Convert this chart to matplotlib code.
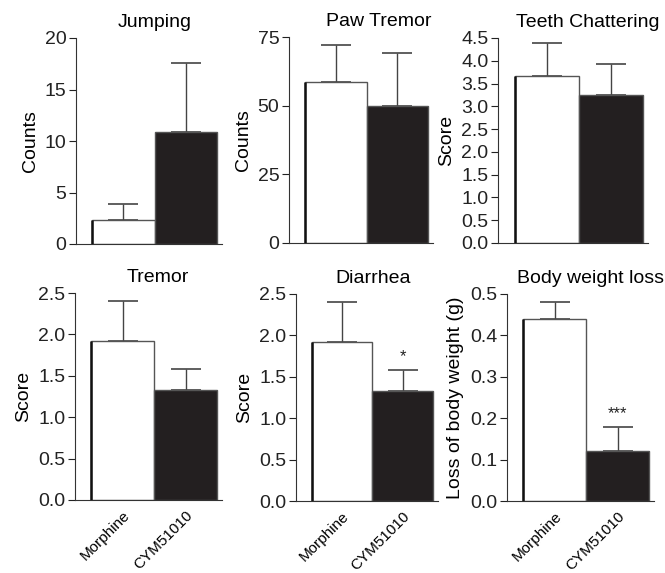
import matplotlib
matplotlib.use("Agg")
import matplotlib.pyplot as plt

plt.rcParams['font.family'] = ['Liberation Sans', 'DejaVu Sans']

groups = ["Morphine", "CYM51010"]
titles = ["Jumping", "Paw Tremor", "Teeth Chattering", "Tremor", "Diarrhea", "Body weight loss"]
ylabels = ["Counts", "Counts", "Score", "Score", "Score", "Loss of body weight (g)"]

jumping = [2.3, 10.9]
jumping_err = [1.6, 6.7]
paw_tremor = [58.5, 50.0]
paw_tremor_err = [13.5, 19.0]
teeth = [3.67, 3.25]
teeth_err = [0.73, 0.68]
tremor = [1.92, 1.33]
tremor_err = [0.48, 0.25]
diarrhea = [1.92, 1.33]
diarrhea_err = [0.48, 0.25]
body_weight = [0.44, 0.12]
body_weight_err = [0.04, 0.058]

means = [jumping, paw_tremor, teeth, tremor, diarrhea, body_weight]
errs = [jumping_err, paw_tremor_err, teeth_err, tremor_err, diarrhea_err, body_weight_err]
stars = [None, None, None, None, "*", "***"]

yticks = [[0, 5, 10, 15, 20], [0, 25, 50, 75],
          [0.0, 0.5, 1.0, 1.5, 2.0, 2.5, 3.0, 3.5, 4.0, 4.5],
          [0.0, 0.5, 1.0, 1.5, 2.0, 2.5], [0.0, 0.5, 1.0, 1.5, 2.0, 2.5],
          [0.0, 0.1, 0.2, 0.3, 0.4, 0.5]]
ytickfmt = ["{:.0f}", "{:.0f}", "{:.1f}", "{:.1f}", "{:.1f}", "{:.1f}"]

W, H = 665, 573
fig = plt.figure(figsize=(W / 100, H / 100), dpi=100)

# pixel boxes: left, right, top, bottom
boxes = [(76, 222, 38, 244), (289, 433, 37, 243), (498, 648, 38, 243),
         (75, 222, 293, 500), (296, 438, 294, 501), (507, 654, 294, 501)]
title_x = [0.54, 0.62, 0.6, 0.56, 0.54, 0.565]

for i in range(6):
    l, r, t, b = boxes[i]
    ax = fig.add_axes([l / W, (H - b) / H, (r - l) / W, (b - t) / H])
    x = [0, 1]
    ax.bar(x, means[i], width=1.0, color=["white", "#231f20"],
           edgecolor="#555555", linewidth=1.0, zorder=2)
    # thicker left edge of white bar
    ax.plot([-0.5, -0.5], [0, means[i][0]], color="#111111", lw=1.8, zorder=3,
            solid_capstyle="butt")
    ax.errorbar(x, means[i], yerr=[[0, 0], errs[i]], fmt="none",
                ecolor="#444444", elinewidth=1.0, capsize=11, capthick=1.2, zorder=1)
    ax.set_xlim(-0.76, 1.58)
    ax.set_ylim(0, yticks[i][-1])
    ax.set_yticks(yticks[i])
    ax.set_yticklabels([ytickfmt[i].format(v) for v in yticks[i]], fontsize=14)
    for s in ["top", "right"]:
        ax.spines[s].set_visible(False)
    ax.spines["left"].set_color("#333333")
    ax.spines["bottom"].set_color("#333333")
    ax.tick_params(axis="y", direction="out", length=5, width=0.8, pad=2, colors="#222222")
    ax.set_ylabel(ylabels[i], fontsize=14, labelpad=4)
    ax.set_title(titles[i], fontsize=14, x=title_x[i], pad=8)
    if i < 3:
        ax.set_xticks([])
    else:
        ax.set_xticks(x)
        ax.set_xticklabels(groups, rotation=45, ha="right", rotation_mode="anchor",
                           fontsize=11)
        ax.tick_params(axis="x", length=0, pad=6)
    if stars[i]:
        ax.text(1, means[i][1] + errs[i][1] + yticks[i][-1] * 0.03, stars[i],
                ha="center", va="bottom", fontsize=12, color="#222222")

fig.savefig("out.png", dpi=100)
